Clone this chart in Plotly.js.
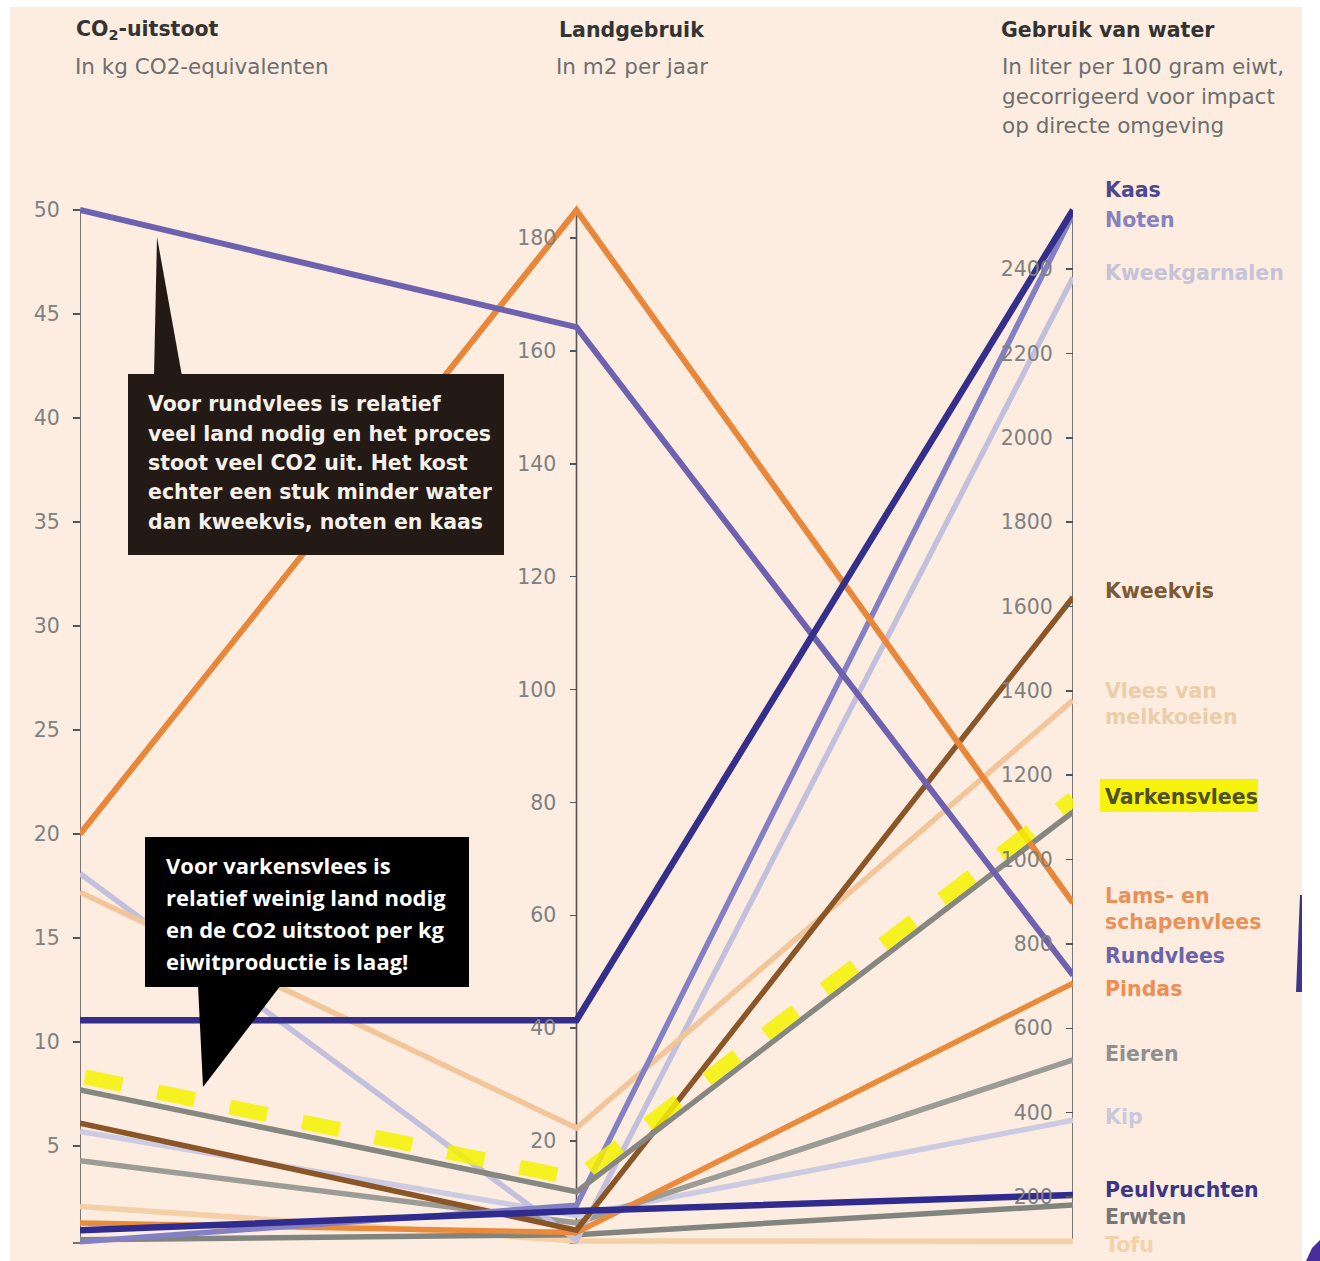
<!DOCTYPE html>
<html><head><meta charset="utf-8">
<script src="https://cdn.plot.ly/plotly-3.0.1.min.js"></script>
<style>html,body{margin:0;padding:0;background:#fff}</style>
</head><body><div id="chart" style="width:1320px;height:1261px"></div>
<script>
// ---------- data ----------
const products = ['Tofu','Erwten','Kip','Eieren','Kweekgarnalen','Vlees van melkkoeien','Pindas','Kweekvis','Noten','Varkensvlees','Lams- en schapenvlees','Rundvlees','Peulvruchten','Kaas'];
const co2   = [2.1, 0.5, 5.7, 4.3, 18.1, 17.2, 1.3, 6.1, 0.4, 7.7, 20.0, 50.0, 0.95, 11.05];
const land  = [2.3, 3.4, 6.8, 5.5, 2.4, 22.3, 3.8, 4.2, 8.6, 11.0, 184.9, 164.2, 7.6, 41.4];
const water = [95, 181, 382, 525, 2380, 1378, 707, 1622, 2530, 1113, 897, 726, 205, 2540];

const dimTitles = ['<b>CO<sub>2</sub>-uitstoot</b>', '<b>Landgebruik</b>', '<b>Gebruik van water</b>'];
const dimSubtitles = [['In kg CO2-equivalenten'], ['In m2 per jaar'], ['In liter per 100 gram eiwt,', 'gecorrigeerd voor impact', 'op directe omgeving']];
const co2Ticks = [5,10,15,20,25,30,35,40,45,50];
const landTicks = [20,40,60,80,100,120,140,160,180];
const waterTicks = [200,400,600,800,1000,1200,1400,1600,1800,2000,2200,2400];

const endLabels = ['Kaas','Noten','Kweekgarnalen','Kweekvis','Vlees van','melkkoeien','Varkensvlees','Lams- en','schapenvlees','Rundvlees','Pindas','Eieren','Kip','Peulvruchten','Erwten','Tofu'];
const note1 = ['Voor rundvlees is relatief','veel land nodig en het proces','stoot veel CO2 uit. Het kost','echter een stuk minder water','dan kweekvis, noten en kaas'];
const note2 = ['Voor varkensvlees is','relatief weinig land nodig','en de CO2 uitstoot per kg','eiwitproductie is laag!'];

// ---------- styles / layout ----------
const lineColors = {
  'Tofu':'#f5cfa6','Erwten':'#82857f','Kip':'#cdcbe2','Eieren':'#9c9c96','Kweekgarnalen':'#c2c0dc',
  'Vlees van melkkoeien':'#f2c69a','Pindas':'#ea8a3b','Kweekvis':'#8a5527','Noten':'#8480c4',
  'Varkensvlees':'#878782','Lams- en schapenvlees':'#e8873a','Rundvlees':'#6e62b0',
  'Peulvruchten':'#2f2b8f','Kaas':'#332f8a'
};
const lineWidths = {'Kaas':6.5,'Peulvruchten':6.5,'Rundvlees':6,'Lams- en schapenvlees':6};
const labelColors = ['#4b4790','#8682bd','#c6c3d8','#7d5934','#ebcdaa','#ebcdaa','#4f4f2c','#e8915a','#e8915a','#6b65a8','#ee8e52','#909090','#cac8dc','#3b3785','#787878','#f4d1ab'];
const labelY = [190,220,273,591,691,717,797,896,922,956,989,1054,1117,1190,1217,1245];

// axis spans: value at bottom end and at top end of each vertical axis line
const spans = [[0.34,50],[1.93,184.96],[91,2540]];

const L = 80, R = 1073, T = 195, B = 1253, AX_TOP = 210, AX_BOT = 1243;
const X = px => (px - L) / (R - L);
const Y = py => (B - py) / (B - T);
const lo = (AX_BOT - B) / (AX_BOT - AX_TOP);
const hi = 1 + (AX_TOP - T) / (AX_BOT - AX_TOP);
const norm = (v, s) => (v - s[0]) / (s[1] - s[0]);
const extRange = s => [s[0] + lo*(s[1]-s[0]), s[0] + hi*(s[1]-s[0])];

const traces = [];
products.forEach((p, i) => {
  traces.push({
    type:'scatter', mode:'lines', x:[0,1,2],
    y:[norm(co2[i],spans[0]), norm(land[i],spans[1]), norm(water[i],spans[2])],
    line:{color:lineColors[p], width:lineWidths[p]||5.5},
    name:p, showlegend:false, hoverinfo:'name'
  });
});
// yellow marker highlight along Varkensvlees
const vi = products.indexOf('Varkensvlees');
const off = 13/(AX_BOT-AX_TOP);
traces.push({
  type:'scatter', mode:'lines', x:[0.01,1,2],
  y:[norm(co2[vi],spans[0])+off, norm(land[vi],spans[1])+off, norm(water[vi],spans[2])+off],
  line:{color:'rgba(245,242,0,0.85)', width:15, dash:'38px,36px'},
  showlegend:false, hoverinfo:'skip'
});
// dummy traces so the three value axes exist
['y2','y3','y4'].forEach(a => traces.push({type:'scatter', x:[null], y:[null], yaxis:a, showlegend:false, hoverinfo:'skip'}));

const tickFont = {family:'DejaVu Sans, sans-serif', size:20.5, color:'#808080'};
function valueAxis(span, ticks, pos){
  return {
    overlaying:'y', anchor:'free', position:pos, side:'left',
    range: extRange(span), showgrid:false, zeroline:false, showline:false,
    ticks:'outside', ticklen:7, tickwidth:1.5, tickcolor:'#555',
    tickvals:ticks, ticktext:ticks.map(String),
    tickfont:tickFont, ticklabelstandoff:9, fixedrange:true
  };
}

function path(pts){ return 'M' + pts.map(p => X(p[0]) + ',' + Y(p[1])).join(' L') + ' Z'; }
const shapes = [
  {type:'rect', xref:'paper', yref:'paper', x0:X(10), x1:X(1302), y0:Y(7), y1:Y(1261), fillcolor:'#fcede0', line:{width:0}, layer:'below'},
  {type:'rect', xref:'paper', yref:'paper', x0:X(1100), x1:X(1258), y0:Y(812), y1:Y(779), fillcolor:'#f6f40c', line:{width:0}, layer:'below'},
];
[0,1,2].forEach(i => shapes.push({type:'line', xref:'x', yref:'y', x0:i, x1:i, y0:0, y1:1, line:{color:'#555', width:1.6}, layer:'below'}));
// unlabeled tick at the bottom end of each axis
[80,576.5,1073].forEach(ax => shapes.push({type:'line', xref:'paper', yref:'paper', x0:X(ax-7), x1:X(ax), y0:Y(AX_BOT), y1:Y(AX_BOT), line:{color:'#555', width:1.6}, layer:'below'}));
shapes.push({type:'path', xref:'paper', yref:'paper', path:path([[128,374],[504,374],[504,555],[128,555]]), fillcolor:'#241a15', line:{width:0}});
shapes.push({type:'path', xref:'paper', yref:'paper', path:path([[154,376],[182,376],[157,237]]), fillcolor:'#241a15', line:{width:0}});
shapes.push({type:'path', xref:'paper', yref:'paper', path:path([[145,837],[469,837],[469,987],[145,987]]), fillcolor:'#000000', line:{width:0}});
shapes.push({type:'path', xref:'paper', yref:'paper', path:path([[198,985],[281,985],[203,1087]]), fillcolor:'#000000', line:{width:0}});
// small purple fragments at the right edge of the picture
shapes.push({type:'path', xref:'paper', yref:'paper', path:path([[1296,992],[1300,895],[1302,895],[1302,992]]), fillcolor:'#3d3490', line:{width:0}});
shapes.push({type:'path', xref:'paper', yref:'paper', path:path([[1306,1261],[1312,1248],[1320,1240],[1320,1261]]), fillcolor:'#4a2d9c', line:{width:0}});

const ann = [];
const dimX = [74, 557, 999];
const subX = [73, 554, 1000];
dimTitles.forEach((t,i) => {
  ann.push({xref:'paper', yref:'paper', x:X(dimX[i]), y:Y(30), xanchor:'left', yanchor:'middle', showarrow:false,
    text:t, font:{family:'DejaVu Sans, sans-serif', size:20.5, color:'#333333'}});
  dimSubtitles[i].forEach((s,j) => ann.push({xref:'paper', yref:'paper', x:X(subX[i]), y:Y(66 + j*30), xanchor:'left', yanchor:'middle', showarrow:false,
    text:s, font:{family:'DejaVu Sans, sans-serif', size:21.5, color:'#6e6e6e'}}));
});
endLabels.forEach((t,i) => ann.push({xref:'paper', yref:'paper', x:X(1103), y:Y(labelY[i]), xanchor:'left', yanchor:'middle', showarrow:false,
  text:'<b>'+t+'</b>', font:{family:'DejaVu Sans, sans-serif', size:20.5, color:labelColors[i]}}));
note1.forEach((t,i) => ann.push({xref:'paper', yref:'paper', x:X(146), y:Y(404 + i*29.5), xanchor:'left', yanchor:'middle', showarrow:false,
  text:'<b>'+t+'</b>', font:{family:'DejaVu Sans, sans-serif', size:20.5, color:'#f6f0ea'}}));
note2.forEach((t,i) => ann.push({xref:'paper', yref:'paper', x:X(164), y:Y(865 + i*32), xanchor:'left', yanchor:'middle', showarrow:false,
  text:'<b>'+t+'</b>', font:{family:'Open Sans, sans-serif', size:22, color:'#ffffff'}}));

const layout = {
  width:1320, height:1261,
  margin:{l:L, r:1320-R, t:T, b:1261-B, pad:0},
  paper_bgcolor:'#ffffff', plot_bgcolor:'rgba(0,0,0,0)',
  showlegend:false,
  xaxis:{range:[0,2], visible:false, fixedrange:true},
  yaxis:{range:[lo,hi], visible:false, fixedrange:true},
  yaxis2: valueAxis(spans[0], co2Ticks, 0),
  yaxis3: valueAxis(spans[1], landTicks, 0.5),
  yaxis4: valueAxis(spans[2], waterTicks, 1),
  shapes:shapes, annotations:ann
};
Plotly.newPlot('chart', traces, layout, {displayModeBar:false, staticPlot:true});
</script></body></html>
